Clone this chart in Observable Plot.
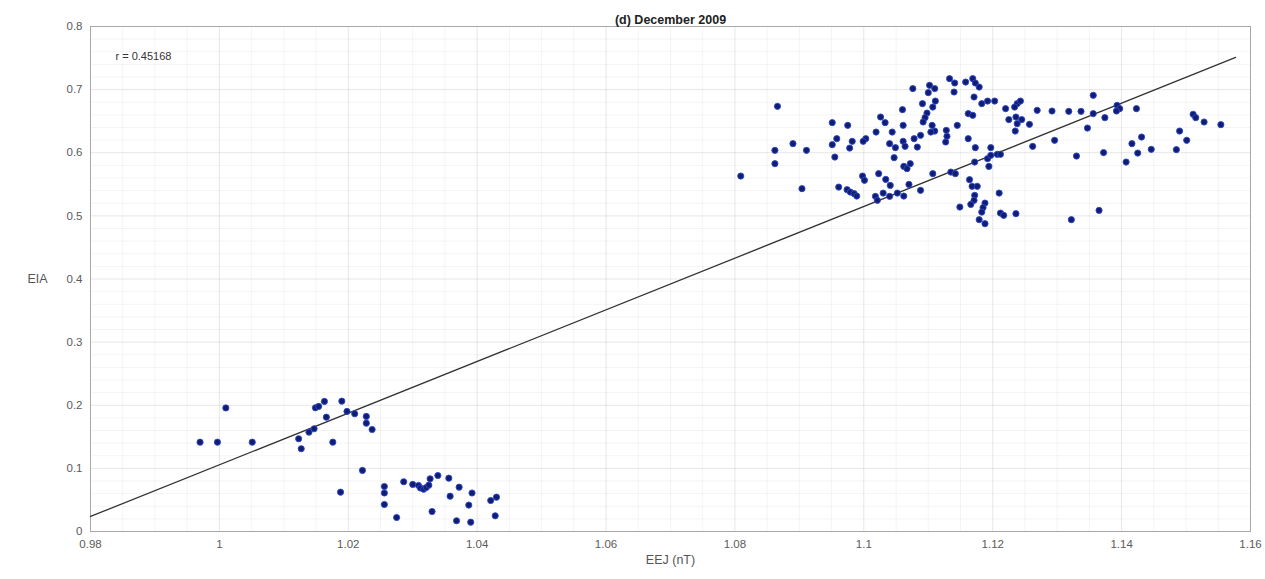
<!DOCTYPE html>
<html>
<head>
<meta charset="utf-8">
<script src="https://cdn.jsdelivr.net/npm/d3@7"></script>
<script src="https://cdn.jsdelivr.net/npm/@observablehq/plot@0.6"></script>
<style>
  html, body { margin: 0; padding: 0; background: #fff; }
  #chart svg { display: block; }
</style>
</head>
<body>
<div id="chart"></div>
<script>
// Labels
const title = "(d) December 2009";
const xLabel = "EEJ (nT)";
const yLabel = "EIA";
const rLabel = "r = 0.45168";

// Axis ticks
const xTicks = [0.98, 1, 1.02, 1.04, 1.06, 1.08, 1.1, 1.12, 1.14, 1.16];
const yTicks = [0, 0.1, 0.2, 0.3, 0.4, 0.5, 0.6, 0.7, 0.8];

// Daily EEJ strength (nT) and EIA values
const eej = [
  1.0010, 0.9970, 0.9997, 1.0051, 1.0123, 1.0127, 1.0139, 1.0147, 1.0149, 1.0154,
  1.0163, 1.0166, 1.0176, 1.0190, 1.0198, 1.0210, 1.0228, 1.0228, 1.0237, 1.0222,
  1.0188, 1.0256, 1.0256, 1.0256, 1.0275, 1.0286, 1.0300, 1.0309, 1.0312, 1.0317,
  1.0321, 1.0325, 1.0327, 1.0339, 1.0330, 1.0356, 1.0358, 1.0372, 1.0368, 1.0387,
  1.0390, 1.0392, 1.0421, 1.0430, 1.0428,
  1.0866, 1.0809, 1.0862, 1.0862, 1.0890, 1.0911, 1.0904, 1.0951, 1.0975, 1.0958,
  1.0951, 1.0955, 1.0982, 1.0978, 1.1003, 1.0999, 1.1019, 1.1026, 1.1033, 1.1044,
  1.1040, 1.1049, 1.1047, 1.0961, 1.0974, 1.0979, 1.0985, 1.0989, 1.0998, 1.1001,
  1.1023, 1.1034, 1.1041, 1.1018, 1.1021, 1.1030, 1.1040, 1.1052,
  1.1076, 1.1102, 1.1110, 1.1100, 1.1133, 1.1141, 1.1140, 1.1158, 1.1169, 1.1173,
  1.1179, 1.1171, 1.1183, 1.1192, 1.1203, 1.1220, 1.1238, 1.1243, 1.1234, 1.1269,
  1.1292, 1.1091, 1.1111, 1.1060, 1.1107, 1.1098, 1.1095, 1.1092, 1.1061, 1.1106,
  1.1110, 1.1104, 1.1088, 1.1078, 1.1061, 1.1064, 1.1083, 1.1128, 1.1129, 1.1127,
  1.1145, 1.1162, 1.1169, 1.1162, 1.1173, 1.1197, 1.1225, 1.1236, 1.1245, 1.1238,
  1.1235, 1.1257, 1.1262, 1.1296, 1.1062, 1.1067, 1.1072, 1.1070, 1.1088, 1.1062,
  1.1107, 1.1135, 1.1142, 1.1172, 1.1192, 1.1197, 1.1207, 1.1212, 1.1194, 1.1164,
  1.1168, 1.1176, 1.1172, 1.1171, 1.1166, 1.1149, 1.1188, 1.1185, 1.1183, 1.1210,
  1.1212, 1.1217, 1.1236, 1.1179, 1.1188,
  1.1356, 1.1318, 1.1337, 1.1356, 1.1374, 1.1347, 1.1393, 1.1397, 1.1392, 1.1423,
  1.1511, 1.1515, 1.1528, 1.1554, 1.1490, 1.1501, 1.1431, 1.1416, 1.1425, 1.1372,
  1.1330, 1.1407, 1.1446, 1.1485, 1.1365, 1.1322
];
const eia = [
  0.1957, 0.1415, 0.1415, 0.1415, 0.1469, 0.1311, 0.1574, 0.1628, 0.1960, 0.1981,
  0.2060, 0.1811, 0.1415, 0.2065, 0.1902, 0.1865, 0.1823, 0.1716, 0.1616, 0.0967,
  0.0623, 0.0713, 0.0610, 0.0428, 0.0222, 0.0788, 0.0745, 0.0729, 0.0689, 0.0670,
  0.0697, 0.0734, 0.0835, 0.0887, 0.0317, 0.0845, 0.0559, 0.0702, 0.0170, 0.0418,
  0.0147, 0.0610, 0.0491, 0.0544, 0.0249,
  0.6735, 0.5631, 0.6038, 0.5827, 0.6144, 0.6038, 0.5431, 0.6477, 0.6434, 0.6223,
  0.6128, 0.5932, 0.6181, 0.6074, 0.6223, 0.6181, 0.6328, 0.6566, 0.6477, 0.6328,
  0.6144, 0.6081, 0.5922, 0.5456, 0.5415, 0.5377, 0.5352, 0.5314, 0.5631, 0.5563,
  0.5669, 0.5578, 0.5483, 0.5309, 0.5246, 0.5361, 0.5309, 0.5361,
  0.7016, 0.7068, 0.7016, 0.6952, 0.7174, 0.7105, 0.6962, 0.7120, 0.7174, 0.7105,
  0.7041, 0.6883, 0.6778, 0.6819, 0.6819, 0.6699, 0.6778, 0.6819, 0.6724, 0.6672,
  0.6661, 0.6778, 0.6819, 0.6683, 0.6724, 0.6629, 0.6556, 0.6487, 0.6434, 0.6434,
  0.6344, 0.6328, 0.6276, 0.6223, 0.6181, 0.6101, 0.6090, 0.6355, 0.6260, 0.6170,
  0.6434, 0.6620, 0.6593, 0.6223, 0.6081, 0.6081, 0.6525, 0.6566, 0.6525, 0.6461,
  0.6344, 0.6450, 0.6101, 0.6197, 0.5784, 0.5748, 0.5827, 0.5499, 0.5404, 0.5314,
  0.5669, 0.5694, 0.5669, 0.5853, 0.5906, 0.5959, 0.5975, 0.5975, 0.5784, 0.5574,
  0.5468, 0.5468, 0.5325, 0.5246, 0.5182, 0.5140, 0.5203, 0.5130, 0.5060, 0.5361,
  0.5044, 0.5008, 0.5035, 0.4940, 0.4876,
  0.6910, 0.6656, 0.6656, 0.6620, 0.6556, 0.6391, 0.6751, 0.6699, 0.6661, 0.6699,
  0.6609, 0.6556, 0.6487, 0.6445, 0.6344, 0.6197, 0.6249, 0.6144, 0.5995, 0.6002,
  0.5948, 0.5853, 0.6054, 0.6049, 0.5087, 0.4940
];

// Least-squares fit line end points
const fitX = [0.98, 1.1577];
const fitY = [0.0238, 0.751];

const points = eej.map((x, i) => ({ x, y: eia[i] }));
const fit = fitX.map((x, i) => ({ x, y: fitY[i] }));

// Fine grid: quarter steps along x, fifth steps along y
const xMinor = d3.range(0, 37).map(i => 0.98 + i * 0.005);
const yMinor = d3.range(0, 41).map(i => i * 0.02);

const fmt = d => String(+d.toFixed(2));

const chart = Plot.plot({
  width: 1265,
  height: 579,
  marginTop: 26,
  marginBottom: 48,
  marginLeft: 90,
  marginRight: 15,
  style: {
    fontFamily: "'Liberation Sans', Arial, sans-serif",
    fontSize: "11.5px",
    color: "#555",
    background: "#fff"
  },
  x: { domain: [0.98, 1.16] },
  y: { domain: [0, 0.8] },
  marks: [
    Plot.gridX(xMinor, { stroke: "#000", strokeOpacity: 0.045 }),
    Plot.gridY(yMinor, { stroke: "#000", strokeOpacity: 0.045 }),
    Plot.gridX(xTicks, { stroke: "#000", strokeOpacity: 0.06 }),
    Plot.gridY(yTicks, { stroke: "#000", strokeOpacity: 0.06 }),
    Plot.frame({ stroke: "#a8a8a8" }),
    Plot.axisX(xTicks, { tickSize: 0, tickPadding: 8, tickFormat: fmt, label: null, fill: "#5a5a5a", fontSize: 11.5 }),
    Plot.axisY(yTicks, { tickSize: 0, tickPadding: 8, tickFormat: fmt, label: null, fill: "#5a5a5a", fontSize: 11.5 }),
    Plot.line(fit, { x: "x", y: "y", stroke: "#333", strokeWidth: 1.3 }),
    Plot.dot(points, { x: "x", y: "y", r: 3.1, fill: "#131d70", stroke: "#2a48d0", strokeWidth: 0.9 }),
    Plot.text([rLabel], { frameAnchor: "top-left", dx: 25, dy: 26, text: d => d, textAnchor: "start", fill: "#333", fontSize: 11 }),
    Plot.text([title], { frameAnchor: "top", dy: -11, text: d => d, fontWeight: "bold", fill: "#222", fontSize: 12.5 }),
    Plot.text([xLabel], { frameAnchor: "bottom", dy: 32, text: d => d, fill: "#555", fontSize: 12.5 }),
    Plot.text([yLabel], { frameAnchor: "left", dx: -63, text: d => d, fill: "#555", fontSize: 12.5 })
  ]
});

document.getElementById("chart").append(chart);
</script>
</body>
</html>
